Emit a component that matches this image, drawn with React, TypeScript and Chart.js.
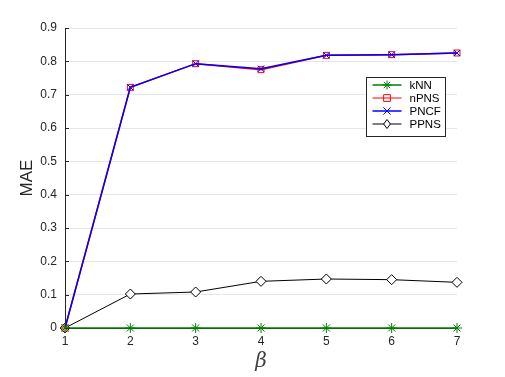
import React, { useEffect, useRef } from "react";
import { Chart, registerables } from "chart.js";

Chart.register(...registerables);

const categories = ["1", "2", "3", "4", "5", "6", "7"];
const yTickLabels = ["0", "0.1", "0.2", "0.3", "0.4", "0.5", "0.6", "0.7", "0.8", "0.9"];
const kNN = [0, 0, 0, 0, 0, 0, 0];
const nPNS = [0, 0.722, 0.793, 0.775, 0.818, 0.82, 0.825];
const PNCF = [0, 0.722, 0.793, 0.778, 0.818, 0.82, 0.825];
const PPNS = [0, 0.102, 0.108, 0.140, 0.147, 0.145, 0.137];

const GREEN = "rgb(0,128,0)";
const RED = "rgb(255,0,0)";
const BLUE = "rgb(0,0,255)";
const BLACK = "rgb(0,0,0)";
const AXIS = "#262626";
const FONT = "'Liberation Sans', Arial, sans-serif";

function drawMarker(ctx: CanvasRenderingContext2D, style: string, x: number, y: number, r: number, stroke: string, fill: string) {
  ctx.save();
  ctx.strokeStyle = stroke;
  ctx.fillStyle = fill;
  ctx.lineWidth = 1;
  ctx.beginPath();
  if (style === "star") {
    ctx.moveTo(x - r, y); ctx.lineTo(x + r, y);
    ctx.moveTo(x, y - r); ctx.lineTo(x, y + r);
    const d = r * 0.707;
    ctx.moveTo(x - d, y - d); ctx.lineTo(x + d, y + d);
    ctx.moveTo(x - d, y + d); ctx.lineTo(x + d, y - d);
    ctx.stroke();
  } else if (style === "rect") {
    const s = r * 0.75;
    ctx.rect(x - s, y - s, 2 * s, 2 * s);
    ctx.fill(); ctx.stroke();
  } else if (style === "crossRot") {
    const d = r * 0.8;
    ctx.moveTo(x - d, y - d); ctx.lineTo(x + d, y + d);
    ctx.moveTo(x - d, y + d); ctx.lineTo(x + d, y - d);
    ctx.stroke();
  } else if (style === "rectRot") {
    ctx.moveTo(x, y - r); ctx.lineTo(x + r * 0.75, y); ctx.lineTo(x, y + r); ctx.lineTo(x - r * 0.75, y); ctx.closePath();
    ctx.fill(); ctx.stroke();
  }
  ctx.restore();
}

const legendItems = [
  { label: "kNN", color: GREEN, style: "star", fill: "rgba(0,0,0,0)", width: 1.5 },
  { label: "nPNS", color: RED, style: "rect", fill: "rgba(0,0,0,0)", width: 1 },
  { label: "PNCF", color: BLUE, style: "crossRot", fill: "rgba(0,0,0,0)", width: 1.5 },
  { label: "PPNS", color: BLACK, style: "rectRot", fill: "#ffffff", width: 1 },
];

const customPlugin = {
  id: "customDecor",
  afterDatasetsDraw(chart: any) {
    const { ctx, chartArea, scales } = chart;
    ctx.save();
    ctx.strokeStyle = AXIS;
    ctx.lineWidth = 1;
    ctx.beginPath();
    scales.y.ticks.forEach((t: any) => {
      const py = Math.round(scales.y.getPixelForValue(t.value)) + 0.5;
      ctx.moveTo(chartArea.left, py);
      ctx.lineTo(chartArea.left + 4, py);
    });
    ctx.stroke();
    ctx.restore();

    const bx = chartArea.right - 90.5;
    const by = 77.5;
    const bw = 79;
    const bh = 59;
    ctx.save();
    ctx.fillStyle = "#ffffff";
    ctx.fillRect(bx, by, bw, bh);
    ctx.strokeStyle = AXIS;
    ctx.lineWidth = 1;
    ctx.strokeRect(bx, by, bw, bh);
    ctx.font = "11.5px " + FONT;
    ctx.textBaseline = "middle";
    ctx.textAlign = "left";
    legendItems.forEach((it, i) => {
      const cy = by + 7.5 + i * 13;
      ctx.strokeStyle = it.color;
      ctx.lineWidth = it.width;
      ctx.beginPath();
      ctx.moveTo(bx + 6, cy);
      ctx.lineTo(bx + 35, cy);
      ctx.stroke();
      drawMarker(ctx, it.style, bx + 20.5, cy, 4.5, it.color, it.fill);
      ctx.fillStyle = "#000000";
      ctx.fillText(it.label, bx + 43, cy + 0.5);
    });
    ctx.restore();
  },
};

export default function App() {
  const ref = useRef<HTMLCanvasElement | null>(null);
  useEffect(() => {
    if (!ref.current) return;
    const chart = new Chart(ref.current, {
      type: "line",
      data: {
        labels: categories,
        datasets: [
          {
            label: "kNN", data: kNN, borderColor: GREEN, backgroundColor: GREEN, borderWidth: 1.5,
            pointStyle: "star", pointRadius: 5, pointBorderWidth: 1, pointBorderColor: GREEN, order: 1, clip: false,
          },
          {
            label: "nPNS", data: nPNS, borderColor: RED, backgroundColor: "rgba(0,0,0,0)", borderWidth: 1.5,
            pointStyle: "rect", pointRadius: 4.2, pointBorderWidth: 1, pointBorderColor: RED, order: 3, clip: false,
          },
          {
            label: "PNCF", data: PNCF, borderColor: BLUE, backgroundColor: BLUE, borderWidth: 1.5,
            pointStyle: "crossRot", pointRadius: 4.5, pointBorderWidth: 1, pointBorderColor: BLUE, order: 2, clip: false,
          },
          {
            label: "PPNS", data: PPNS, borderColor: BLACK, backgroundColor: "#ffffff", borderWidth: 1,
            pointStyle: "rectRot", pointRadius: 5, pointBorderWidth: 1, pointBorderColor: BLACK, pointBackgroundColor: "#ffffff", order: 4, clip: false,
          },
        ],
      },
      options: {
        responsive: false,
        animation: false,
        layout: { padding: { top: 28, right: 48, left: 0, bottom: 0 } },
        plugins: { legend: { display: false }, tooltip: { enabled: false } },
        elements: { line: { tension: 0 } },
        scales: {
          x: {
            type: "category",
            offset: false,
            grid: { display: false, drawTicks: false },
            border: { display: true, color: AXIS, width: 1 },
            ticks: { color: AXIS, padding: 6, font: { family: FONT, size: 12 }, maxRotation: 0 },
            title: {
              display: true, text: "β", color: "#404040",
              font: { family: "'DejaVu Serif', serif", size: 20, style: "italic" },
              padding: { top: 0, bottom: 3 },
            },
            afterFit: (s: any) => { s.height = 49; },
          },
          y: {
            min: 0, max: 0.9,
            ticks: {
              stepSize: 0.1, color: AXIS, padding: 8,
              font: { family: FONT, size: 12 },
              callback: (_v: any, i: number) => yTickLabels[i],
            },
            grid: { color: "#e6e6e6", drawTicks: false, lineWidth: 1 },
            border: { display: true, color: AXIS, width: 1 },
            title: {
              display: true, text: "MAE", color: AXIS,
              font: { family: FONT, size: 17 },
              padding: { top: 17, bottom: 0 },
            },
            afterFit: (s: any) => { s.width = 65; },
          },
        },
      },
      plugins: [customPlugin],
    } as any);
    return () => chart.destroy();
  }, []);
  return (
    <div style={{ position: "fixed", left: 0, top: 0, width: 505, height: 377, background: "#fff" }}>
      <canvas ref={ref} width={505} height={377} />
    </div>
  );
}
